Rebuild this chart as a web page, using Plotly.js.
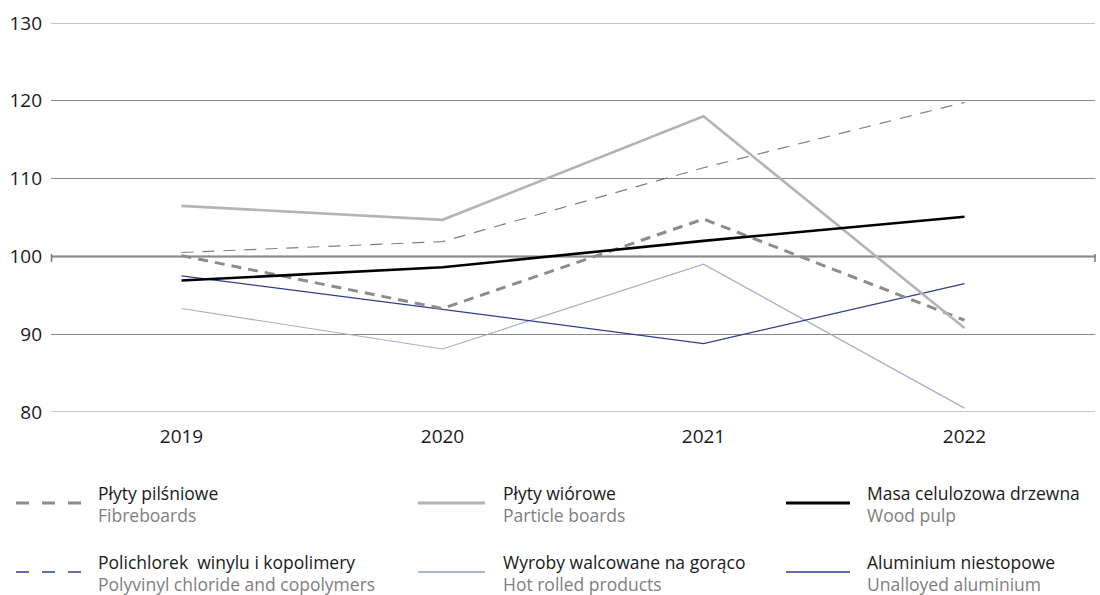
<!DOCTYPE html>
<html>
<head>
<meta charset="utf-8">
<script src="https://cdn.plot.ly/plotly-3.0.1.min.js"></script>
<style>
  html, body { margin: 0; padding: 0; background: #ffffff; }
  #chart { width: 1100px; height: 595px; }
</style>
</head>
<body>
<div id="chart"></div>
<script>
// ---- data ----
const years = ['2019', '2020', '2021', '2022'];
const fibreboards   = [100.1, 93.3, 104.8, 91.8];
const particleBoards = [106.5, 104.7, 118.0, 90.8];
const woodPulp      = [96.9, 98.6, 102.0, 105.1];
const pvc           = [100.5, 101.9, 111.4, 119.8];
const hotRolled     = [93.3, 88.1, 99.0, 80.5];
const aluminium     = [97.5, 93.2, 88.8, 96.5];

const namesPl = ['Płyty pilśniowe', 'Płyty wiórowe', 'Masa celulozowa drzewna',
                 'Polichlorek\u00a0 winylu i kopolimery', 'Wyroby walcowane na gorąco', 'Aluminium niestopowe'];
const namesEn = ['Fibreboards', 'Particle boards', 'Wood pulp',
                 'Polyvinyl chloride and copolymers', 'Hot rolled products', 'Unalloyed aluminium'];
const yTicks = [80, 90, 100, 110, 120, 130];

// ---- styles ----
const seriesValues = [fibreboards, particleBoards, woodPulp, pvc, hotRolled, aluminium];
const lineColors  = ['#8c8c8c', '#b4b4b4', '#000000', '#7f7f7f', '#a9aecb', '#2f3f8c'];
const legendColors = ['#8c8c8c', '#b4b4b4', '#000000', '#2f3f8c', '#8e9ac6', '#2f3f8c'];
const lineWidths  = [3, 2.6, 2.6, 1.2, 1.2, 1.2];
const legendWidths = [3, 3, 3, 1.3, 1.3, 1.3];
const lineDash    = ['10px,7px', 'solid', 'solid', '12px,9px', 'solid', 'solid'];
const drawOrder   = [4, 5, 3, 0, 1, 2];

const FONT = '"Open Sans", "Noto Sans", sans-serif';
const FS = 19;
const LFS = 17.5;
const LINE_GAP = 22; // px between the Polish and English lines

const traces = drawOrder.map(i => ({
  type: 'scatter',
  mode: 'lines',
  x: years,
  y: seriesValues[i],
  name: namesPl[i],
  line: { color: lineColors[i], width: lineWidths[i], dash: lineDash[i] },
  hoverinfo: 'x+y+name',
  showlegend: false
}));

// ---- layout geometry (pixels -> paper) ----
const W = 1100, H = 595;
const M = { l: 51, r: 5, t: 23, b: 183 };
const PW = W - M.l - M.r, PH = H - M.t - M.b;
const px = x => (x - M.l) / PW;
const py = y => (H - M.b - y) / PH;

const shapes = [
  // edge gridlines (range limits)
  { type: 'line', xref: 'paper', yref: 'y', x0: 0, x1: 1, y0: 130, y1: 130,
    line: { color: '#8a8a8a', width: 1 }, layer: 'below' },
  { type: 'line', xref: 'paper', yref: 'y', x0: 0, x1: 1, y0: 80, y1: 80,
    line: { color: '#8a8a8a', width: 1 }, layer: 'below' },
  // reference line at 100
  { type: 'line', xref: 'paper', yref: 'y', x0: 0, x1: 1, y0: 100, y1: 100,
    line: { color: '#777777', width: 2 }, layer: 'below' },
  { type: 'line', xref: 'paper', yref: 'paper', x0: px(51.5), x1: px(51.5), y0: py(254), y1: py(262),
    line: { color: '#777777', width: 1.5 } },
  { type: 'line', xref: 'paper', yref: 'paper', x0: px(1095), x1: px(1095), y0: py(254), y1: py(262),
    line: { color: '#777777', width: 1.5 } }
];
const annotations = [];

// legend grid
const colSwatchX = [[16, 81], [418, 485], [786, 850]];
const colTextX = [96, 501, 865];
const rowSwatchY = [503, 572];
const rowTextY = [504, 573];

for (let i = 0; i < 6; i++) {
  const c = i % 3, r = Math.floor(i / 3);
  shapes.push({
    type: 'line', xref: 'paper', yref: 'paper',
    x0: px(colSwatchX[c][0]), x1: px(colSwatchX[c][1]),
    y0: py(rowSwatchY[r]), y1: py(rowSwatchY[r]),
    line: { color: legendColors[i], width: legendWidths[i],
            dash: lineDash[i] === 'solid' ? 'solid' : '13px,13px' }
  });
  annotations.push({
    xref: 'paper', yref: 'paper', x: px(colTextX[c]), y: py(rowTextY[r]),
    xanchor: 'left', yanchor: 'middle', align: 'left', showarrow: false,
    text: '<span style="font-size:' + LFS + 'px;color:#1a1a1a">' + namesPl[i] + '</span><br>' +
          '<span style="font-size:' + LFS + 'px;color:#808080">' + namesEn[i] + '</span>',
    font: { family: FONT, size: LINE_GAP / 1.3, color: '#1a1a1a' }
  });
}

const layout = {
  width: W, height: H,
  margin: M,
  paper_bgcolor: '#ffffff',
  plot_bgcolor: '#ffffff',
  font: { family: FONT, size: FS, color: '#1a1a1a' },
  showlegend: false,
  xaxis: {
    type: 'category',
    range: [-0.5, 3.5],
    showgrid: false, zeroline: false, showline: false,
    ticks: '', ticklabelstandoff: 11,
    tickfont: { family: FONT, size: FS, color: '#1a1a1a' },
    fixedrange: true
  },
  yaxis: {
    range: [80, 130],
    tickvals: yTicks,
    ticktext: yTicks.map(String),
    showgrid: true, gridcolor: '#8a8a8a', gridwidth: 1,
    zeroline: false, showline: false,
    ticks: '', ticklabelstandoff: 8,
    tickfont: { family: FONT, size: FS, color: '#1a1a1a' },
    fixedrange: true
  },
  shapes: shapes,
  annotations: annotations
};

Plotly.newPlot('chart', traces, layout, { displayModeBar: false });
</script>
</body>
</html>
